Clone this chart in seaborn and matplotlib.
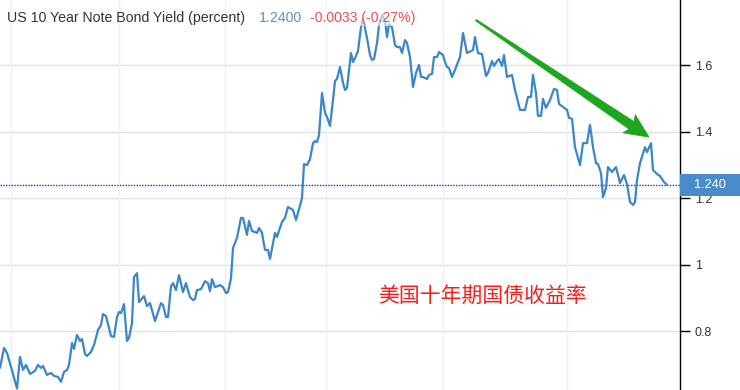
import matplotlib
matplotlib.use("Agg")
import numpy as np
import pandas as pd
import matplotlib.pyplot as plt
import seaborn as sns
from matplotlib.patches import Polygon, Rectangle
from matplotlib.transforms import IdentityTransform

# ---------------- data ----------------
t = [0, 4, 7, 11, 17, 20, 23, 26, 30, 35, 38, 41, 43, 47, 51, 54, 58, 61, 64, 67,
     69, 72, 74, 77, 80, 82, 85, 87, 91, 94, 98, 101, 103, 106, 111, 114, 117, 119, 121, 124,
     127, 129, 132, 134, 137, 139, 144, 147, 150, 155, 161, 163, 166, 168, 171, 173, 176, 179, 183, 186,
     190, 193, 195, 197, 201, 205, 208, 210, 212, 215, 220, 223, 226, 228, 231, 233, 237, 241, 243, 247,
     249, 252, 257, 259, 262, 265, 268, 270, 275, 277, 282, 285, 288, 293, 296, 298, 302, 304, 307, 310,
     313, 315, 317, 319, 322, 325, 327, 330, 333, 335, 337, 340, 343, 345, 347, 351, 353, 356, 358, 361,
     363, 367, 370, 372, 374, 377, 379, 382, 385, 387, 389, 392, 395, 397, 400, 402, 405, 407, 410, 413,
     416, 419, 421, 423, 427, 429, 432, 434, 437, 439, 443, 445, 447, 449, 452, 455, 458, 460, 463, 467,
     473, 475, 478, 482, 486, 488, 492, 494, 497, 499, 502, 504, 507, 512, 515, 520, 525, 528, 531, 533,
     536, 538, 541, 543, 546, 550, 554, 557, 559, 563, 567, 569, 572, 575, 580, 583, 587, 590, 593, 596,
     598, 601, 603, 606, 608, 612, 616, 620, 624, 627, 630, 633, 635, 637, 640, 645, 647, 651, 653, 657,
     660, 664, 667]
yld = [0.689, 0.749, 0.734, 0.692, 0.627, 0.722, 0.683, 0.698, 0.671, 0.680, 0.698, 0.689, 0.695, 0.668, 0.674, 0.665, 0.662, 0.647, 0.677, 0.683,
       0.698, 0.764, 0.746, 0.788, 0.770, 0.776, 0.731, 0.725, 0.737, 0.758, 0.803, 0.818, 0.851, 0.845, 0.785, 0.782, 0.842, 0.857, 0.854, 0.881,
       0.770, 0.779, 0.824, 0.962, 0.974, 0.887, 0.905, 0.875, 0.884, 0.830, 0.884, 0.878, 0.842, 0.842, 0.935, 0.944, 0.923, 0.968, 0.917, 0.944,
       0.902, 0.893, 0.896, 0.923, 0.926, 0.950, 0.944, 0.920, 0.956, 0.932, 0.938, 0.932, 0.914, 0.917, 0.959, 1.050, 1.080, 1.140, 1.140, 1.089,
       1.131, 1.101, 1.095, 1.110, 1.095, 1.044, 1.044, 1.017, 1.095, 1.083, 1.128, 1.140, 1.173, 1.164, 1.134, 1.155, 1.200, 1.302, 1.299, 1.317,
       1.365, 1.371, 1.368, 1.389, 1.516, 1.456, 1.444, 1.417, 1.495, 1.552, 1.558, 1.594, 1.546, 1.525, 1.531, 1.636, 1.609, 1.627, 1.642, 1.714,
       1.740, 1.681, 1.630, 1.615, 1.618, 1.666, 1.720, 1.750, 1.735, 1.684, 1.723, 1.714, 1.660, 1.654, 1.654, 1.636, 1.675, 1.666, 1.624, 1.534,
       1.576, 1.600, 1.564, 1.564, 1.558, 1.570, 1.573, 1.624, 1.624, 1.639, 1.630, 1.609, 1.594, 1.591, 1.564, 1.585, 1.609, 1.624, 1.696, 1.636,
       1.645, 1.684, 1.636, 1.633, 1.567, 1.576, 1.612, 1.597, 1.612, 1.618, 1.597, 1.630, 1.564, 1.570, 1.525, 1.465, 1.465, 1.504, 1.504, 1.570,
       1.516, 1.447, 1.447, 1.498, 1.471, 1.495, 1.528, 1.525, 1.483, 1.474, 1.465, 1.441, 1.438, 1.353, 1.299, 1.365, 1.365, 1.420, 1.353, 1.305,
       1.302, 1.275, 1.203, 1.230, 1.293, 1.278, 1.293, 1.245, 1.269, 1.242, 1.188, 1.179, 1.188, 1.254, 1.305, 1.353, 1.338, 1.365, 1.284, 1.272,
       1.266, 1.248, 1.240]

y_ticks = [0.8, 1.0, 1.2, 1.4, 1.6]
y_tick_labels = ["0.8", "1", "1.2", "1.4", "1.6"]
period_lines = [11, 119, 225, 326, 443, 567]
last_value = 1.24
last_label = "1.240"
title_main = "US 10 Year Note Bond Yield (percent)"
title_value = "1.2400"
title_change = "-0.0033 (-0.27%)"
annotation = "美国十年期国债收益率"
trend_start = (476, 1.735)
trend_end = (649, 1.383)

# ---------------- style ----------------
sns.set_theme(style="white")
plt.rcParams['font.family'] = ['Liberation Sans', 'DejaVu Sans']

W, H = 740, 390
fig = plt.figure(figsize=(W / 100, H / 100), dpi=100)
fig.patch.set_facecolor("white")
ax = fig.add_axes([0, 0, 680 / W, 1])
ax.set_facecolor("white")

for v in y_ticks:
    ax.axhline(v, color="#e2e2e2", lw=1.0, zorder=0)
for m in period_lines:
    ax.axvline(m, color="#edf1f6", lw=1.0, zorder=0)

df = pd.DataFrame({"t": t, "yield": yld})
sns.lineplot(data=df, x="t", y="yield", ax=ax, color="#3b86c9", linewidth=1.6,
             estimator=None, sort=False, zorder=3)

ax.axhline(last_value, color="#2a2ad4", lw=1.0, ls=(0, (1, 1)), zorder=2)

ax.set_xlim(0, 680)
ax.set_ylim(0.6226, 1.7955)
ax.set_xlabel("")
ax.set_ylabel("")
ax.set_xticks(period_lines)
ax.set_xticklabels([])
ax.tick_params(axis="x", length=0)
ax.yaxis.tick_right()
ax.set_yticks(y_ticks)
ax.set_yticklabels(y_tick_labels)
ax.tick_params(axis="y", direction="out", length=7, width=1, color="black",
               labelsize=9, labelcolor="#333333", pad=3.5, right=True, left=False)
for s in ["left", "top", "bottom"]:
    ax.spines[s].set_visible(False)
ax.spines["right"].set_color("black")
ax.spines["right"].set_linewidth(1.0)

# header texts
fig.text(7 / W, 1 - 18 / H, title_main, fontsize=10.2, color="#333333", va="center", ha="left")
fig.text(259 / W, 1 - 18 / H, title_value, fontsize=10.2, color="#5b8fd2", va="center", ha="left")
fig.text(310 / W, 1 - 18 / H, title_change, fontsize=10.2, color="#ee4b52", va="center", ha="left",
         bbox=dict(facecolor="white", edgecolor="none", alpha=0.6, pad=0.5), zorder=5)

# Chinese annotation
ax.text(378, 0.905, annotation, fontsize=15, color="#ff1a1a", va="center", ha="left",
        family=["Noto Sans CJK SC", "DejaVu Sans"])

fig.canvas.draw()

# last value box
yc = ax.transData.transform((0, last_value))[1]
fig.patches.append(Rectangle((680, yc - 11), 60, 22, transform=IdentityTransform(),
                             facecolor="#4a8bca", edgecolor="none", zorder=4))
fig.text(710 / W, yc / H, last_label, fontsize=9.2, color="white", ha="center", va="center", zorder=5)

# green trend arrow (display coordinates built from data endpoints)
p0 = np.array(ax.transData.transform(trend_start))
p1 = np.array(ax.transData.transform(trend_end))
u = (p1 - p0) / np.linalg.norm(p1 - p0)
n = np.array([-u[1], u[0]])
head_len, head_hw, tail_hw, base_hw = 21, 11, 0.8, 4.5
base = p1 - head_len * u
notch = base - 3 * u
pts = [p0 + tail_hw * n, base + base_hw * n, notch + head_hw * n, p1,
       notch - head_hw * n, base - base_hw * n, p0 - tail_hw * n]
fig.patches.append(Polygon(pts, closed=True, transform=IdentityTransform(),
                           facecolor="#1fa61f", edgecolor="#1fa61f", lw=0.5, zorder=4))

fig.savefig("out.png", dpi=100)
